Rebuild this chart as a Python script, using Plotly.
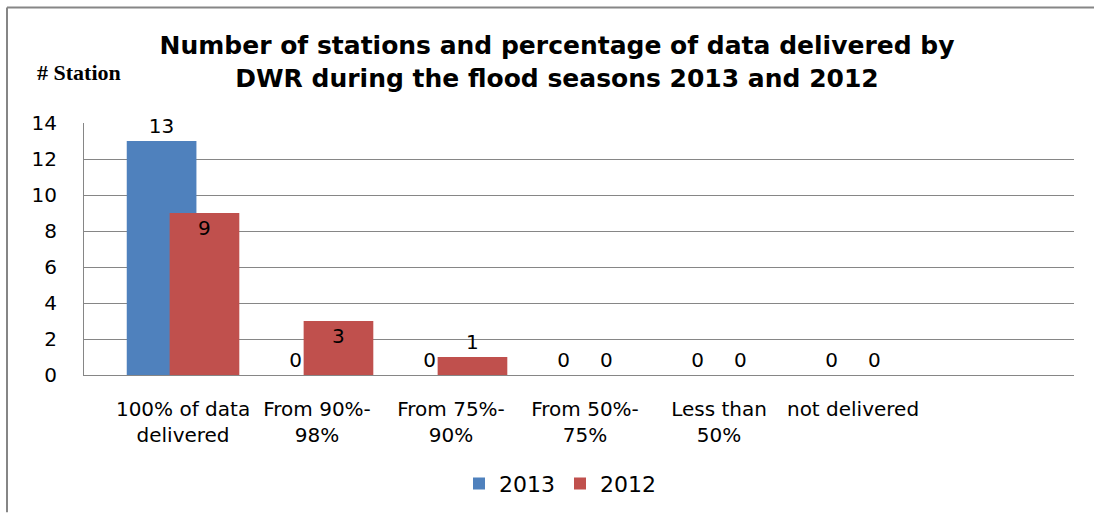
import plotly.graph_objects as go

categories = ["100% of data<br>delivered", "From 90%-<br>98%", "From 75%-<br>90%",
              "From 50%-<br>75%", "Less than<br>50%", "not delivered"]
values_2013 = [13, 0, 0, 0, 0, 0]
values_2012 = [9, 3, 1, 0, 0, 0]
series_names = ["2013", "2012"]
colors = ["#4F81BD", "#C0504D"]

FONT = "DejaVu Sans"

def positions(vals, inside_min):
    return ["inside" if v >= inside_min else "outside" for v in vals]

fig = go.Figure()
fig.add_trace(go.Bar(
    x=categories, y=values_2013, name=series_names[0],
    marker=dict(color=colors[0], line=dict(width=0)),
    width=0.52, offset=-0.42,
    text=[str(v) for v in values_2013], textposition="outside",
    textfont=dict(family=FONT, size=20, color="black"),
    cliponaxis=False, constraintext="none",
))
fig.add_trace(go.Bar(
    x=categories, y=values_2012, name=series_names[1],
    marker=dict(color=colors[1], line=dict(width=0)),
    width=0.52, offset=-0.10,
    text=[str(v) for v in values_2012], textposition=positions(values_2012, 2),
    insidetextanchor="end",
    textfont=dict(family=FONT, size=20, color="black"),
    cliponaxis=False, constraintext="none",
))

W, H = 1094, 517
L, R, T, B = 84, 20, 123, 139
pw, ph = W - L - R, H - T - B

def px(x):
    return (x - L) / pw

def py(y):
    return (H - B - y) / ph

fig.update_layout(
    width=W, height=H,
    margin=dict(l=L, r=R, t=T, b=B, pad=0),
    barmode="overlay",
    paper_bgcolor="white", plot_bgcolor="white",
    font=dict(family=FONT, size=20, color="black"),
    title=dict(
        text="<b>Number of stations and percentage of data delivered by<br>DWR during the flood seasons 2013 and 2012</b>",
        font=dict(family=FONT, size=25, color="black"),
        x=557 / W, xref="container", xanchor="center",
        y=1 - 54 / H, yref="container", yanchor="middle",
    ),
    xaxis=dict(
        type="category", range=[-0.739, 6.649],
        showline=True, linecolor="#868686", linewidth=1,
        showgrid=False, ticks="", tickfont=dict(family=FONT, size=20, color="black"),
        ticklabelstandoff=16,
    ),
    yaxis=dict(
        range=[0, 14], dtick=2, tick0=0,
        showline=True, linecolor="#868686", linewidth=1,
        showgrid=True, gridcolor="#868686", gridwidth=1,
        zeroline=False, ticks="",
        tickfont=dict(family=FONT, size=20, color="black"),
        ticklabelstandoff=22,
    ),
    showlegend=True,
    legend=dict(
        orientation="h", x=px(560), xanchor="center", y=py(488), yanchor="middle",
        font=dict(family=FONT, size=22, color="black"),
        bgcolor="rgba(0,0,0,0)", itemwidth=30, traceorder="normal",
    ),
    annotations=[dict(
        text="<b># Station</b>", x=px(79), y=py(72), xref="paper", yref="paper",
        xanchor="center", yanchor="middle", showarrow=False,
        font=dict(family="Liberation Serif", size=22, color="black"),
    )],
    shapes=[
        dict(type="line", xref="paper", yref="paper", x0=px(7), x1=px(7), y0=py(H), y1=py(6),
             line=dict(color="#868686", width=2)),
        dict(type="line", xref="paper", yref="paper", x0=px(7), x1=px(W), y0=py(6), y1=py(6),
             line=dict(color="#868686", width=2)),
    ],
)

fig.write_html("out.html")
